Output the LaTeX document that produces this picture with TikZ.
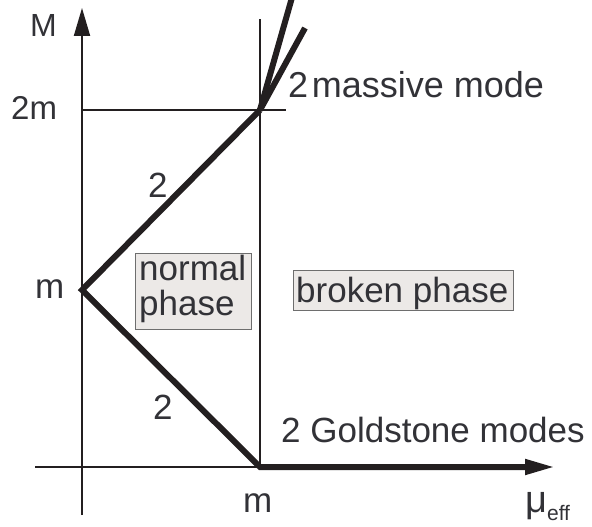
\documentclass[tikz,border=0pt]{standalone}
\usepackage{fontspec}
\setmainfont{Liberation Sans}
\usetikzlibrary{arrows.meta}
\definecolor{ink}{RGB}{35,31,32}
\definecolor{txt}{RGB}{50,50,55}
\definecolor{boxfill}{RGB}{236,233,231}
\definecolor{boxline}{RGB}{110,110,110}
\begin{document}
\begin{tikzpicture}[x=1pt,y=-1pt,
  thinline/.style={draw=ink,line width=2pt},
  thickline/.style={draw=ink,line width=6pt,line join=miter},
  axisarrow/.style={thinline,-{Triangle[length=28pt,width=16pt]}},
  lbl/.style={text=txt,font=\fontsize{35}{35}\selectfont,inner sep=0pt,anchor=base west},
  phasebox/.style={fill=boxfill,draw=boxline,line width=1pt,inner sep=0pt}]
\useasboundingbox (0,0) rectangle (592,527);
% coordinates
\coordinate (ybot) at (82,515);
\coordinate (ytop) at (82,8);
\coordinate (xleft) at (35,467);
\coordinate (xright) at (553,467);
\coordinate (A) at (82,290);
\coordinate (B) at (260,110);
\coordinate (C) at (260,467);
\coordinate (vtop) at (260,19);
\coordinate (hleft) at (82,110);
\coordinate (hright) at (286,110);
\coordinate (gend) at (528,467);
\coordinate (br1) at (293,-6);
\coordinate (br2) at (305,28);
% axes and guide lines
\draw[axisarrow] (ybot) -- (ytop);
\draw[axisarrow] (xleft) -- (xright);
\draw[thinline] (C) -- (vtop);
\draw[thinline] (hleft) -- (hright);
% thick branches
\draw[thickline] (B) -- (A) -- (C) -- (gend);
\draw[thickline] (B) -- (br1);
\draw[thickline] (B) -- (br2);
% labels
\node[lbl,font=\fontsize{32}{34}\selectfont] (lM) at (30,37) {M};
\node[lbl,font=\fontsize{33}{34}\selectfont] (l2m) at (11,120) {2m};
\node[lbl] (lm) at (35,298) {m};
\node[lbl] (l2a) at (148,197) {2};
\node[lbl] (l2b) at (153,419) {2};
\node[lbl] (lmx) at (243,512) {m};
\node[lbl] (lmu) at (525,512) {\fontsize{38}{38}\selectfont μ\raisebox{-8pt}{\fontsize{21}{22}\selectfont eff}};
\node[lbl,font=\fontsize{36}{36}\selectfont] (lmass) at (288,97) {2\hspace{0.1em}massive mode};
\node[lbl] (lgold) at (281,442) {2 Goldstone modes};
% phase boxes
\node[phasebox,minimum width=116pt,minimum height=76pt] (normal) at (193,291) {};
\node[lbl] (normal1) at (139,280) {normal};
\node[lbl] (normal2) at (139,315) {phase};
\node[phasebox,minimum width=220pt,minimum height=40pt] (broken) at (403,290.5) {};
\node[lbl] (brokentxt) at (296,302) {broken phase};
\end{tikzpicture}
\end{document}
